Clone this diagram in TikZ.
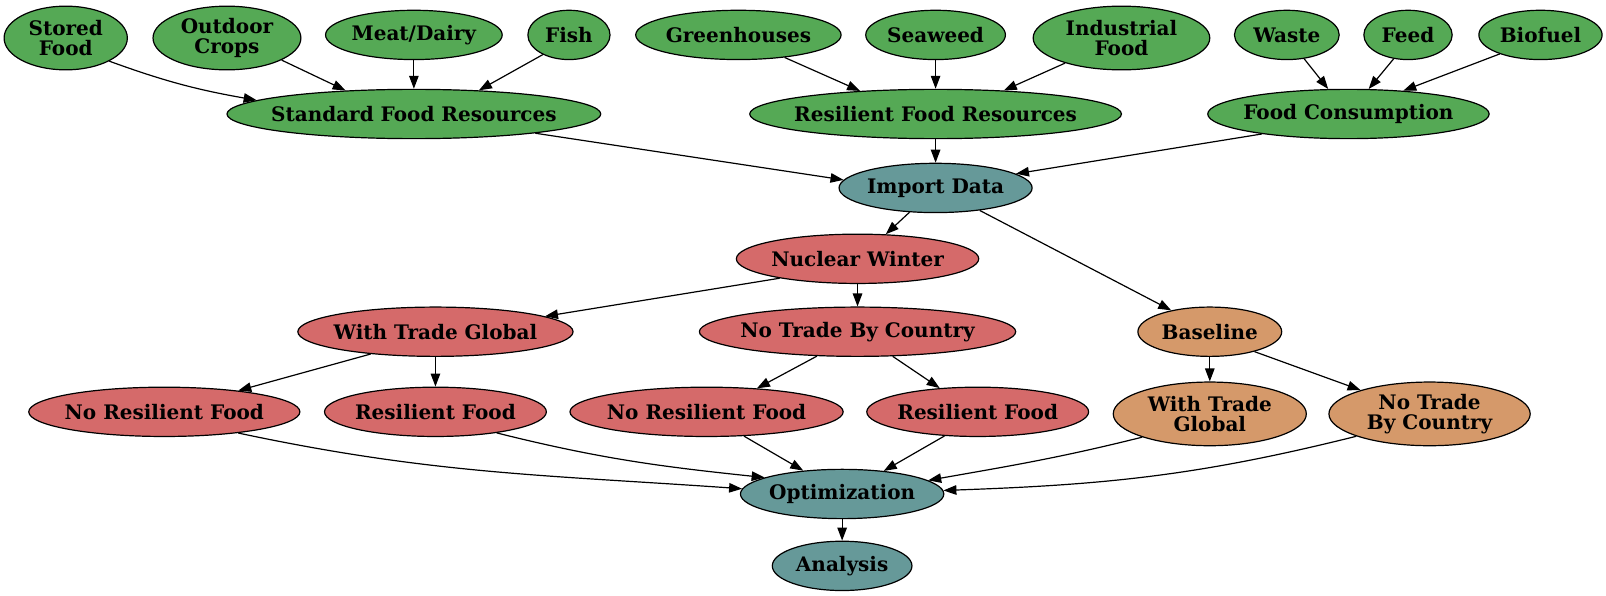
\documentclass[tikz,border=0pt]{standalone}
\usepackage{fontspec}
\setmainfont{DejaVu Serif}
\usetikzlibrary{shapes.geometric,arrows.meta}
\definecolor{gr}{HTML}{55A955}
\definecolor{tl}{HTML}{669999}
\definecolor{rd}{HTML}{D56A6A}
\definecolor{og}{HTML}{D5996A}
\tikzset{
  gnode/.style={ellipse,draw=black,line width=1.2pt,inner sep=0pt,
    label={[font=\fontsize{20}{20.5}\selectfont\bfseries,align=center]center:#1}},
  arr/.style={line width=1.2pt,-{Triangle[length=13pt,width=9.5pt]}}
}
\newcommand{\gn}[7]{\node[gnode={#7},fill=#2,minimum width=#5*2.054pt,minimum height=#6*2.054pt] (#1) at (#3,#4) {};}
\begin{document}
\begin{tikzpicture}[x=1.027pt,y=-1.027pt]
\useasboundingbox (0,0) rectangle (1563.8,579.4);
\gn{sf}{gr}{64}{37}{60}{31}{Stored\\Food}
\gn{oc}{gr}{221}{37}{72}{31}{Outdoor\\Crops}
\gn{md}{gr}{403}{34}{86}{24}{Meat/Dairy}
\gn{fi}{gr}{554}{34}{40}{24}{Fish}
\gn{gh}{gr}{719}{34}{100}{24}{Greenhouses}
\gn{sw}{gr}{911}{34}{68}{24}{Seaweed}
\gn{inf}{gr}{1092}{37}{86}{31}{Industrial\\Food}
\gn{wa}{gr}{1253}{34}{51}{24}{Waste}
\gn{fe}{gr}{1371}{34}{43}{24}{Feed}
\gn{bf}{gr}{1500}{34}{60}{24}{Biofuel}
\gn{std}{gr}{403}{111}{182}{24}{Standard Food Resources}
\gn{res}{gr}{911}{111}{181}{24}{Resilient Food Resources}
\gn{fc}{gr}{1313}{111}{137}{24}{Food Consumption}
\gn{imp}{tl}{911}{183}{94}{24}{Import Data}
\gn{nw}{rd}{835}{252}{118}{24}{Nuclear Winter}
\gn{wtg}{rd}{424}{323}{134}{24}{With Trade Global}
\gn{ntc}{rd}{835}{323}{154}{24}{No Trade By Country}
\gn{bl}{og}{1178}{323}{70}{24}{Baseline}
\gn{nra}{rd}{160}{401}{132}{24}{No Resilient Food}
\gn{rfa}{rd}{424}{401}{108}{24}{Resilient Food}
\gn{nrb}{rd}{688}{401}{133}{24}{No Resilient Food}
\gn{rfb}{rd}{952}{401}{108}{24}{Resilient Food}
\gn{wtgo}{og}{1178}{403}{94}{31}{With Trade\\Global}
\gn{ntco}{og}{1392}{403}{98}{31}{No Trade\\By Country}
\gn{opt}{tl}{820}{481}{99}{24}{Optimization}
\gn{ana}{tl}{820}{551}{68}{24}{Analysis}
% edges
\draw[arr] (sf.-28) to[out=-20,in=170] (std.175);
\draw[arr] (oc.-22) -- (std.161);
\draw[arr] (md.south) -- (std.north);
\draw[arr] (fi.-143) -- (std.20);
\draw[arr] (gh.-26) -- (res.163);
\draw[arr] (sw.south) -- (res.north);
\draw[arr] (inf.-156) -- (res.19);
\draw[arr] (wa.-54) -- (fc.129);
\draw[arr] (fe.-121) -- (fc.51);
\draw[arr] (bf.-155) -- (fc.23);
\draw[arr] (std.-9) -- (imp.175);
\draw[arr] (res.south) -- (imp.north);
\draw[arr] (fc.-167) -- (imp.10);
\draw[arr] (imp.-137) -- (nw.41);
\draw[arr] (imp.-27) -- (bl.151);
\draw[arr] (nw.-166) -- (wtg.8);
\draw[arr] (nw.south) -- (ntc.north);
\draw[arr] (wtg.-161) -- (nra.16);
\draw[arr] (wtg.south) -- (rfa.north);
\draw[arr] (ntc.-149) -- (nrb.25);
\draw[arr] (ntc.-35) -- (rfb.148);
\draw[arr] (bl.south) -- (wtgo.north);
\draw[arr] (bl.-24) -- (ntco.161);
\draw[arr] (nra.-16) to[out=-12,in=176] (opt.177);
\draw[arr] (rfa.-19) to[out=-14,in=174] (opt.168);
\draw[arr] (nrb.-33) -- (opt.149);
\draw[arr] (rfb.-144) -- (opt.29);
\draw[arr] (wtgo.-161) to[out=-166,in=10] (opt.9);
\draw[arr] (ntco.-163) to[out=-166,in=2] (opt.2);
\draw[arr] (opt.south) -- (ana.north);
\end{tikzpicture}
\end{document}
